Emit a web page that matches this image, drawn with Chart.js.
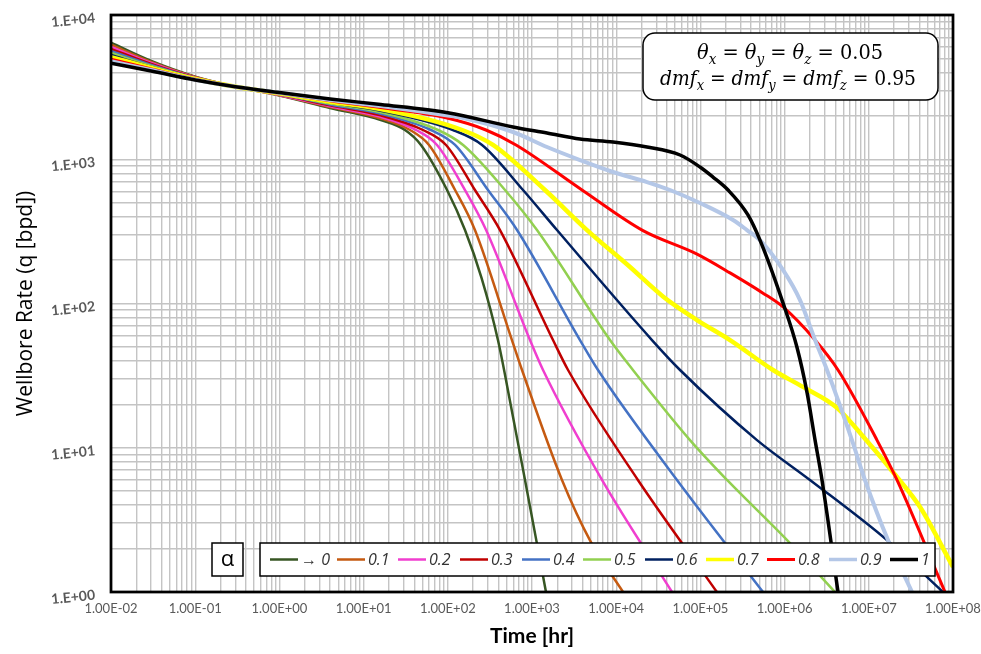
<!DOCTYPE html>
<html>
<head>
<meta charset="utf-8">
<script src="https://cdn.jsdelivr.net/npm/chart.js@4.4.1/dist/chart.umd.min.js"></script>
<style>
  html, body { margin: 0; padding: 0; background: #fff; }
</style>
</head>
<body>
<canvas id="myChart" width="981" height="654"></canvas>
<script>
// legend labels for each alpha curve
const alphaLabels = ['→ 0', '0.1', '0.2', '0.3', '0.4', '0.5', '0.6', '0.7', '0.8', '0.9', '1'];

// tick labels, one per decade
const xTickLabels = ['1.00E-02', '1.00E-01', '1.00E+00', '1.00E+01', '1.00E+02', '1.00E+03',
                     '1.00E+04', '1.00E+05', '1.00E+06', '1.00E+07', '1.00E+08'];
const yTickLabels = ['1.E+00', '1.E+01', '1.E+02', '1.E+03', '1.E+04'];

// [time hr, rate bpd]
const alpha0 = [[0.01, 6427], [0.03, 4799], [0.1, 3736], [0.3, 3185], [1, 2766], [4, 2266], [16, 1871],
  [31, 1595], [48, 1256], [98, 612], [160, 323], [251, 151], [394, 55.8], [562, 19.5], [826, 5.97],
  [1466, 1]];
const alpha1 = [[0.01, 6220], [0.03, 4723], [0.1, 3716], [0.3, 3185], [1, 2780], [4, 2299], [16, 1918],
  [35.6, 1595], [59.8, 1256], [122, 612], [210, 323], [578, 55.8], [761, 34.6], [2270, 5.98],
  [5010, 2.22], [12050, 1]];
const alpha2 = [[0.01, 6019], [0.03, 4648], [0.1, 3697], [0.3, 3185], [1, 2793], [4, 2333], [16, 1966],
  [41.9, 1595], [74.4, 1256], [160, 612], [285, 323], [946, 55.8], [1352, 34.6], [6780, 5.98], [46000, 1]];
const alpha3 = [[0.01, 5825], [0.03, 4574], [0.1, 3677], [0.3, 3185], [1, 2807], [4, 2366], [16, 2015],
  [50.7, 1595], [95.2, 1256], [210, 612], [417, 323], [1776, 55.8], [2680, 34.6], [18100, 5.98],
  [157000, 1]];
const alpha4 = [[0.01, 5636], [0.03, 4502], [0.1, 3658], [0.3, 3185], [1, 2820], [4, 2400], [16, 2066],
  [63.1, 1595], [122, 1256], [300, 612], [664, 323], [3715, 55.8], [6080, 34.6], [52700, 5.98],
  [554000, 1]];
const alpha5 = [[0.01, 5453], [0.03, 4430], [0.1, 3639], [0.3, 3185], [1, 2834], [4, 2435], [16, 2118],
  [76.5, 1595], [152, 1256], [478, 612], [1146, 323], [8440, 55.8], [15800, 34.6], [75200, 11.3],
  [207000, 5.98], [1070000, 2.29], [3970000, 1]];
const alpha6 = [[0.01, 5277], [0.03, 4360], [0.1, 3620], [0.3, 3185], [1, 2847], [4, 2470], [16, 2171],
  [115, 1595], [255, 1256], [782, 612], [1980, 323], [26600, 55.8], [57300, 34.6], [470000, 11.3],
  [2000000, 5.98], [16400000, 2.29], [76000000, 1]];
const alpha7 = [[0.01, 5106], [0.03, 4291], [0.1, 3600], [0.3, 3185], [1, 2861], [4, 2506], [16, 2225],
  [148, 1595], [344, 1256], [1426, 612], [4500, 323], [14600, 179], [35900, 112], [91200, 76.8],
  [225000, 55.8], [728000, 34.6], [1650000, 26.4], [4190000, 18.9], [9300000, 11.3], [21600000, 6.27],
  [40600000, 3.88], [100000000, 1.49]];
const alpha8 = [[0.01, 4941], [0.03, 4223], [0.1, 3581], [0.3, 3185], [1, 2875], [4, 2542], [16, 2281],
  [98, 1930], [284, 1595], [646, 1256], [3924, 612], [20800, 320], [91200, 220], [225000, 163],
  [554000, 118], [957000, 94.6], [2300000, 55.8], [4310000, 34.6], [12500000, 11.3], [21600000, 5.98],
  [80400000, 1]];
const alpha9 = [[0.01, 4780], [0.03, 4156], [0.1, 3562], [0.3, 3185], [1, 2888], [4, 2579], [16, 2338],
  [100, 2010], [152, 1932], [595, 1545], [1507, 1216], [3715, 988], [9160, 816], [23200, 695],
  [43500, 612], [98900, 497], [244000, 379], [357000, 323], [510000, 275], [957000, 171], [1520000, 106],
  [2300000, 55.8], [3190000, 34.6], [6310000, 11.3], [9000000, 5.98], [16900000, 2.29], [32600000, 1]];
const alpha10 = [[0.01, 4627], [0.03, 4090], [0.1, 3543], [0.3, 3185], [1, 2902], [4, 2617], [16, 2396],
  [100, 2100], [595, 1674], [1507, 1521], [3715, 1381], [9160, 1318], [23200, 1216], [57300, 1070],
  [98900, 884], [141000, 753], [213000, 612], [367000, 411], [510000, 275], [957000, 101],
  [1400000, 49.9], [1850000, 24.0], [2300000, 11.3], [2780000, 5.98], [4310000, 1]];

const allSeries = [alpha0, alpha1, alpha2, alpha3, alpha4, alpha5, alpha6, alpha7, alpha8, alpha9, alpha10];

const lineColors = ['#375623', '#C55A11', '#F03ECF', '#C00000', '#4472C4', '#92D050',
                    '#002060', '#FFFF00', '#FF0000', '#B4C7E7', '#000000'];
const lineWidths = [2.5, 2.5, 2.5, 2.5, 2.5, 2.5, 2.5, 4.5, 3, 4, 3.5];

const datasets = allSeries.map((s, i) => ({
  label: alphaLabels[i],
  data: s.map(p => ({ x: p[0], y: p[1] })),
  borderColor: lineColors[i],
  borderWidth: lineWidths[i],
  pointRadius: 0,
  fill: false,
  cubicInterpolationMode: 'monotone',
  order: allSeries.length - 1 - i
}));

// grid ticks at 1..9 x 10^n
function logTicks(lo, hi) {
  const out = [];
  for (let e = lo; e < hi; e++) {
    for (let k = 1; k < 10; k++) out.push({ value: k * Math.pow(10, e) });
  }
  out.push({ value: Math.pow(10, hi) });
  return out;
}

function decadeLabel(value, labels, lo) {
  const e = Math.round(Math.log10(value));
  if (Math.abs(value / Math.pow(10, e) - 1) < 1e-6) return labels[e - lo];
  return '';
}

// draws text with italic variables and subscripts, centered on cx, squeezed to width w
function drawMath(ctx, parts, cx, y, size, targetW) {
  const fam = '"DejaVu Serif", serif';
  const fontOf = p => p[1] === 'sub' ? `italic ${Math.round(size * 0.7)}px ${fam}`
                    : p[1] === 'i' ? `italic ${size}px ${fam}` : `${size}px ${fam}`;
  let w = 0;
  parts.forEach(p => { ctx.font = fontOf(p); w += ctx.measureText(p[0]).width; });
  const sx = Math.min(1, targetW / w);
  ctx.save();
  ctx.translate(cx, y);
  ctx.scale(sx, 1);
  let x = -w / 2;
  parts.forEach(p => {
    ctx.font = fontOf(p);
    ctx.fillText(p[0], x, p[1] === 'sub' ? size * 0.25 : 0);
    x += ctx.measureText(p[0]).width;
  });
  ctx.restore();
}

const legendX = [270, 337, 398, 460, 522, 583, 645, 706, 767, 829, 890];

const overlay = {
  id: 'overlay',
  afterDraw(chart) {
    const { ctx, chartArea: a } = chart;
    ctx.save();

    // plot frame
    ctx.strokeStyle = '#000';
    ctx.lineWidth = 2.75;
    ctx.strokeRect(a.left, a.top, a.right - a.left, a.bottom - a.top);

    // parameter box
    ctx.beginPath();
    ctx.roundRect(643, 33, 295, 67, 12);
    ctx.fillStyle = '#fff';
    ctx.fill();
    ctx.lineWidth = 1.5;
    ctx.stroke();
    ctx.fillStyle = '#000';
    ctx.textBaseline = 'alphabetic';
    drawMath(ctx, [['θ', 'i'], ['x', 'sub'], [' = ', 'n'], ['θ', 'i'], ['y', 'sub'], [' = ', 'n'],
      ['θ', 'i'], ['z', 'sub'], [' = 0.05', 'n']], 790, 59, 20, 186);
    drawMath(ctx, [['dmf', 'i'], ['x', 'sub'], [' = ', 'n'], ['dmf', 'i'], ['y', 'sub'], [' = ', 'n'],
      ['dmf', 'i'], ['z', 'sub'], [' = 0.95', 'n']], 788, 85, 20, 256);

    // alpha box
    ctx.fillStyle = '#fff';
    ctx.fillRect(212, 543, 31, 33);
    ctx.lineWidth = 1.5;
    ctx.strokeRect(212, 543, 31, 33);
    ctx.fillStyle = '#000';
    ctx.font = '22px "Open Sans", sans-serif';
    ctx.textAlign = 'center';
    ctx.textBaseline = 'middle';
    ctx.fillText('α', 227.5, 560);

    // legend
    ctx.fillStyle = '#fff';
    ctx.fillRect(260, 543, 675, 33);
    ctx.strokeRect(260, 543, 675, 33);
    ctx.textAlign = 'left';
    ctx.font = 'italic 16px "Open Sans", sans-serif';
    chart.data.datasets.forEach((ds, i) => {
      const x0 = legendX[i];
      ctx.beginPath();
      ctx.moveTo(x0, 559.5);
      ctx.lineTo(x0 + 28, 559.5);
      ctx.strokeStyle = ds.borderColor;
      ctx.lineWidth = Math.min(ds.borderWidth, 3.5);
      ctx.stroke();
      ctx.fillStyle = '#333';
      ctx.fillText(ds.label, x0 + 31, 560);
    });
    ctx.restore();
  }
};

const ctx = document.getElementById('myChart').getContext('2d');
const myChart = new Chart(ctx, {
  type: 'line',
  data: { datasets: datasets },
  options: {
    responsive: false,
    animation: false,
    devicePixelRatio: 1,
    layout: { padding: { left: 0, right: 28, top: 15, bottom: 0 } },
    plugins: { legend: { display: false }, tooltip: { enabled: false } },
    scales: {
      x: {
        type: 'logarithmic',
        position: 'bottom',
        min: 0.01,
        max: 1e8,
        afterBuildTicks: scale => { scale.ticks = logTicks(-2, 8); },
        afterFit: scale => {
          scale.height = 62;
          scale.paddingLeft = 0;
          scale.paddingRight = 0;
        },
        grid: { color: '#C4C4C4', lineWidth: 1.4, drawTicks: false },
        border: { display: false },
        ticks: {
          autoSkip: false,
          maxRotation: 0,
          padding: 9,
          color: '#595959',
          font: { family: 'Lato', size: 13 },
          callback: v => decadeLabel(v, xTickLabels, -2)
        },
        title: {
          display: true,
          text: 'Time [hr]',
          color: '#000',
          font: { family: 'Lato', size: 21, weight: 'bold' },
          padding: { top: 0, bottom: 5 }
        }
      },
      y: {
        type: 'logarithmic',
        min: 1,
        max: 1e4,
        afterBuildTicks: scale => { scale.ticks = logTicks(0, 4); },
        afterFit: scale => {
          scale.width = 111;
          scale.paddingTop = 0;
          scale.paddingBottom = 0;
        },
        grid: { color: '#C4C4C4', lineWidth: 1.4, drawTicks: false },
        border: { display: false },
        ticks: {
          autoSkip: false,
          minRotation: 6,
          maxRotation: 6,
          padding: 16,
          labelOffset: 3,
          color: '#595959',
          font: { family: 'Lato', size: 14, weight: 'bold' },
          callback: v => decadeLabel(v, yTickLabels, 0)
        },
        title: {
          display: true,
          text: 'Wellbore Rate (q [bpd])',
          color: '#000',
          font: { family: 'Open Sans', size: 21 },
          padding: { top: 13, bottom: 0 }
        }
      }
    }
  },
  plugins: [overlay]
});
</script>
</body>
</html>
